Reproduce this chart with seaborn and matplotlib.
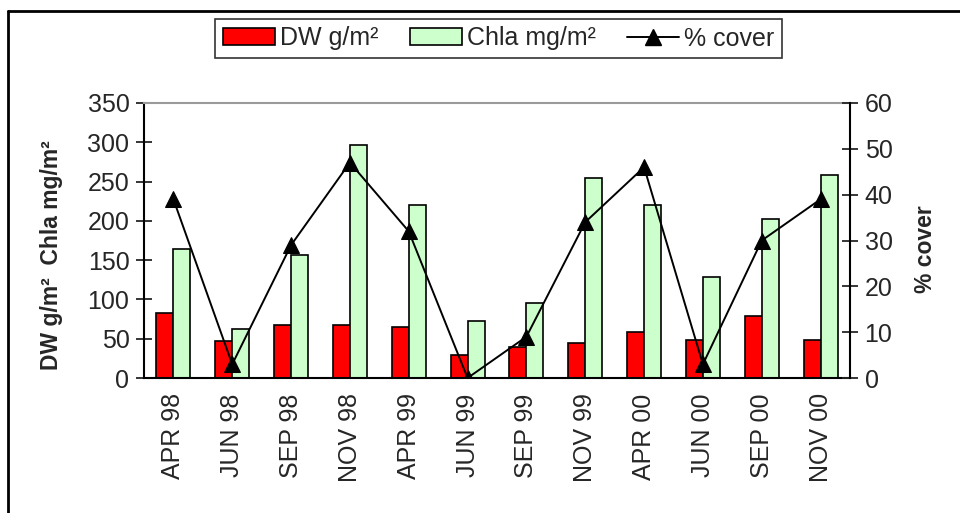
import numpy as np
import pandas as pd
import matplotlib
matplotlib.use("Agg")
import matplotlib.pyplot as plt
import seaborn as sns
from matplotlib.lines import Line2D
from matplotlib.patches import Patch

# ---- data ----
months = ["APR 98", "JUN 98", "SEP 98", "NOV 98", "APR 99", "JUN 99",
          "SEP 99", "NOV 99", "APR 00", "JUN 00", "SEP 00", "NOV 00"]
dw = [83, 47, 67, 67, 65, 29, 39, 44, 59, 49, 79, 49]
chla = [164, 62, 156, 296, 220, 72, 95, 255, 220, 128, 202, 258]
cover = [39, 3, 29, 47, 32, 0, 9, 34, 46, 3, 30, 39]
series_names = ["DW g/m\u00b2", "Chla mg/m\u00b2"]
line_name = "% cover"
left_ticks = [0, 50, 100, 150, 200, 250, 300, 350]
right_ticks = [0, 10, 20, 30, 40, 50, 60]

sns.set_style("white")
plt.rcParams['font.family'] = ['Liberation Sans', 'DejaVu Sans']

W, H = 960, 513
fig = plt.figure(figsize=(W / 100, H / 100), dpi=100)
x0, x1, y0, y1 = 144, 850, 103, 378
ax = fig.add_axes([x0 / W, 1 - y1 / H, (x1 - x0) / W, (y1 - y0) / H])

df = pd.DataFrame({
    "month": months * 2,
    "series": [series_names[0]] * len(months) + [series_names[1]] * len(months),
    "value": dw + chla,
})
sns.barplot(data=df, x="month", y="value", hue="series", order=months,
            hue_order=series_names, palette=["#FF0000", "#CCFFCC"],
            width=0.58, gap=0, edgecolor="black", linewidth=1.2,
            saturation=1, errorbar=None, legend=False, ax=ax)

ax2 = ax.twinx()
sns.lineplot(x=np.arange(len(months)), y=cover, ax=ax2, color="black",
             marker="^", markersize=12, linewidth=1.4,
             markeredgecolor="black", markerfacecolor="black")

ax.set_xlim(-0.5, len(months) - 0.5)
ax.set_ylim(0, 350)
ax2.set_ylim(0, 60)
ax.set_xlabel("")
ax.set_ylabel("")
ax2.set_xlabel("")
ax2.set_ylabel("")

FS = 18
# x ticks: boundaries as major (no labels), centers as minor (labels)
ax.set_xticks(np.arange(-0.5, len(months), 1.0))
ax.set_xticklabels([])
ax.set_xticks(np.arange(len(months)), minor=True)
ax.set_xticklabels(months, minor=True, rotation=90, fontsize=FS)
ax.tick_params(axis="x", which="major", direction="inout", length=11, width=1.3)
ax.tick_params(axis="x", which="minor", length=0, pad=11)

ax.set_yticks(left_ticks)
ax.tick_params(axis="y", direction="inout", length=11, width=1.3, labelsize=FS, pad=5)
ax2.set_yticks(right_ticks)
ax2.tick_params(axis="y", direction="inout", length=11, width=1.3, labelsize=FS, pad=5)

for s in ["left", "bottom"]:
    ax.spines[s].set_color("black")
    ax.spines[s].set_linewidth(1.5)
ax.spines["right"].set_visible(False)
ax.spines["top"].set_color("#9a9a9a")
ax.spines["top"].set_linewidth(1.5)
for s in ["left", "bottom", "top"]:
    ax2.spines[s].set_visible(False)
ax2.spines["right"].set_color("black")
ax2.spines["right"].set_linewidth(1.5)

# axis titles
fig.text(52 / W, 1 - 255 / H, "DW g/m\u00b2  Chla mg/m\u00b2", rotation=90,
         fontweight="bold", fontsize=16.5, ha="center", va="center")
fig.text(925 / W, 1 - 249 / H, "% cover", rotation=90,
         fontweight="bold", fontsize=16.5, ha="center", va="center")

# legend
handles = [Patch(facecolor="#FF0000", edgecolor="black", linewidth=1.2),
           Patch(facecolor="#CCFFCC", edgecolor="black", linewidth=1.2),
           Line2D([], [], color="black", marker="^", markersize=12, linewidth=1.4)]
leg = fig.legend(handles, series_names + [line_name], ncol=3, loc="center",
                 bbox_to_anchor=(498.5 / W, 1 - 38.5 / H), fontsize=FS,
                 frameon=True, fancybox=False, edgecolor="black",
                 handlelength=2.1, handleheight=0.64, handletextpad=0.18,
                 columnspacing=1.25, borderpad=0.3, borderaxespad=0)
leg.get_frame().set_linewidth(1.2)

# outer frame (top and left edges visible)
fig.add_artist(Line2D([8 / W, 1], [1 - 11 / H, 1 - 11 / H], transform=fig.transFigure,
                      color="black", linewidth=2))
fig.add_artist(Line2D([8 / W, 8 / W], [0, 1 - 11 / H], transform=fig.transFigure,
                      color="black", linewidth=2))

fig.savefig("out.png", dpi=100)
